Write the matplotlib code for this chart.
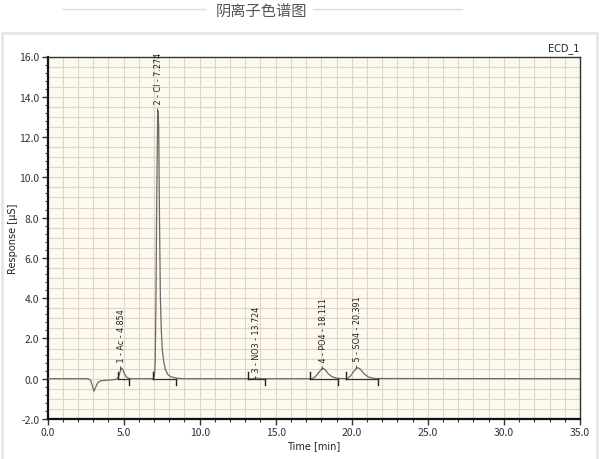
import numpy as np
import matplotlib
matplotlib.use("Agg")
import matplotlib.pyplot as plt
from matplotlib.ticker import MultipleLocator, FormatStrFormatter
from matplotlib.patches import Rectangle
from matplotlib.lines import Line2D

plt.rcParams['font.family'] = ['Noto Sans CJK SC', 'DejaVu Sans']

# chromatogram trace (time [min], response [uS])
trace_t = [0.0, 2.7, 2.85, 2.95, 3.05, 3.15, 3.3, 3.5, 3.8, 4.2, 4.5,
           4.62, 4.72, 4.8, 4.87, 4.95, 5.05, 5.2, 5.4,
           6.95, 7.02, 7.08, 7.13, 7.18, 7.24, 7.27, 7.31, 7.36, 7.42, 7.48,
           7.55, 7.65, 7.75, 7.9, 8.1, 8.4, 8.8,
           13.5, 13.72, 13.95,
           17.4, 17.6, 17.8, 18.0, 18.11, 18.25, 18.45, 18.7, 19.0,
           19.7, 19.9, 20.1, 20.3, 20.39, 20.55, 20.8, 21.1, 21.5, 35.0]
trace_y = [0.0, 0.0, -0.1, -0.35, -0.62, -0.45, -0.2, -0.1, -0.08, -0.06, -0.03,
           0.02, 0.2, 0.42, 0.53, 0.45, 0.25, 0.08, 0.0,
           0.0, 0.1, 0.8, 4.0, 9.0, 13.0, 13.3, 12.5, 8.0, 4.0, 2.4,
           1.4, 0.8, 0.45, 0.22, 0.1, 0.04, 0.0,
           0.0, 0.04, 0.0,
           0.0, 0.1, 0.28, 0.47, 0.52, 0.45, 0.25, 0.1, 0.02,
           0.0, 0.12, 0.33, 0.52, 0.55, 0.48, 0.25, 0.08, 0.01, 0.0]

# peaks
peak_names = ["1 - Ac - 4.854", "2 - Cl - 7.274", "3 - NO3 - 13.724",
              "4 - PO4 - 18.111", "5 - SO4 - 20.391"]
peak_rt = [4.854, 7.274, 13.724, 18.111, 20.391]
peak_top = [0.53, 13.3, 0.04, 0.52, 0.55]
peak_start = [4.63, 6.93, 13.2, 17.26, 19.6]
peak_end = [5.33, 8.42, 14.3, 19.08, 21.71]

fig = plt.figure(figsize=(6.0, 4.6), dpi=100)
fig.patch.set_facecolor('white')

# header title with side rules
fig.text(261 / 600, 1 - 12 / 460, "阴离子色谱图", ha='center', va='center',
         fontsize=11, color='#555555')
fig.add_artist(Line2D([62 / 600, 205 / 600], [1 - 10 / 460] * 2,
                      color='#dddddd', lw=1))
fig.add_artist(Line2D([313 / 600, 462 / 600], [1 - 10 / 460] * 2,
                      color='#dddddd', lw=1))
# outer panel frame
fig.add_artist(Rectangle((2 / 600, -0.01), 595 / 600, 1 - 34 / 460 + 0.01,
                         fill=False, edgecolor='#e6e6e6', lw=2))

ax = fig.add_axes([47.5 / 600, 1 - 420 / 460, 532.5 / 600, (420 - 57.5) / 460])
ax.set_facecolor('#fdf9ee')

ax.set_xlim(0, 35)
ax.set_ylim(-2, 16)
ax.xaxis.set_major_locator(MultipleLocator(5))
ax.xaxis.set_minor_locator(MultipleLocator(1))
ax.yaxis.set_major_locator(MultipleLocator(2))
ax.yaxis.set_minor_locator(MultipleLocator(0.4))
ax.xaxis.set_major_formatter(FormatStrFormatter('%.1f'))
ax.yaxis.set_major_formatter(FormatStrFormatter('%.1f'))

# grid: 1 min vertical, 0.5 uS horizontal
for xv in np.arange(1, 35, 1):
    ax.axvline(xv, color='#ddd6c8', lw=0.8, zorder=0)
for yv in np.arange(-1.5, 16, 0.5):
    ax.axhline(yv, color='#ddd6c8', lw=0.8, zorder=0)

ax.plot(trace_t, trace_y, color='#6a6a6a', lw=0.9, zorder=3)

# integration markers
for s, e in zip(peak_start, peak_end):
    ax.plot([s, e], [0, 0], color='#333333', lw=0.9, zorder=4)
    ax.plot([s, s], [0, 0.32], color='#222222', lw=1.0, zorder=4)
    ax.plot([e, e], [0, -0.32], color='#222222', lw=1.0, zorder=4)

# peak labels
for name, rt, top in zip(peak_names, peak_rt, peak_top):
    ax.text(rt, top + 0.02, "– " + name, rotation=90, ha='center', va='bottom',
            fontsize=5.8, color='#222222', family=['DejaVu Sans'], zorder=5)

ax.tick_params(axis='both', which='major', direction='out', length=4,
               width=1, labelsize=7.5, colors='#333333', pad=2)
ax.tick_params(axis='both', which='minor', direction='out', length=2, width=0.8,
               colors='#333333')
for side in ['left', 'bottom']:
    ax.spines[side].set_linewidth(1.6)
    ax.spines[side].set_color('#111111')
for side in ['top', 'right']:
    ax.spines[side].set_linewidth(1.0)
    ax.spines[side].set_color('#333333')

ax.set_xlabel("Time [min]", fontsize=7, color='#222222', labelpad=2,
              family=['DejaVu Sans'])
ax.set_ylabel("Response [µS]", fontsize=7, color='#222222', labelpad=1,
              family=['DejaVu Sans'])
ax.text(1.0, 1.01, "ECD_1", transform=ax.transAxes, ha='right', va='bottom',
        fontsize=7, color='#222222', family=['DejaVu Sans'])

fig.savefig("out.png", dpi=100, facecolor='white')
